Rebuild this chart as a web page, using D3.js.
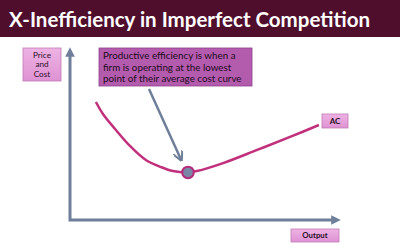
<!DOCTYPE html>
<html>
<head>
<meta charset="utf-8">
<script src="https://cdn.jsdelivr.net/npm/d3@7"></script>
<style>
  body { margin: 0; background: #fff; }
  svg { display: block; }
</style>
</head>
<body>
<svg id="chart" width="400" height="250"></svg>
<script>
// average cost curve (output, cost on a 0-10 scale)
let acOutput = [0.96, 1.22, 1.67, 2.22, 2.81, 3.37, 3.81, 4.37, 4.70, 5.67, 6.93, 8.15, 9.22]
let acCost   = [6.82, 6.13, 5.26, 4.28, 3.47, 3.06, 2.83, 2.75, 2.83, 3.29, 4.05, 4.80, 5.49]
let minPoint = [4.37, 2.75]

let title = "X-Inefficiency in Imperfect Competition"
let yLabel = ["Price", "and", "Cost"]
let xLabel = "Output"
let curveLabel = "AC"
let note = ["Productive efficiency is when a",
            "firm is operating at the lowest",
            "point of their average cost curve"]

let svg = d3.select("#chart")
let font = "Lato, 'Open Sans', sans-serif"

let x = d3.scaleLinear().domain([0, 10]).range([70, 340])
let y = d3.scaleLinear().domain([0, 10]).range([220, 47])

// title bar
svg.append("rect").attr("x", 0).attr("y", 0).attr("width", 400).attr("height", 37)
  .attr("fill", "#4f0e2c")
svg.append("text").attr("x", 9).attr("y", 27)
  .attr("font-family", font).attr("font-weight", "bold").attr("font-size", 20)
  .attr("fill", "#fff").attr("textLength", 361).attr("lengthAdjust", "spacingAndGlyphs")
  .text(title)

let defs = svg.append("defs")
defs.append("marker").attr("id", "axhead").attr("viewBox", "0 0 10 10")
  .attr("refX", 5).attr("refY", 5).attr("markerWidth", 3.2).attr("markerHeight", 3.2)
  .attr("orient", "auto-start-reverse")
  .append("path").attr("d", "M0,0L10,5L0,10z").attr("fill", "#6f7f99")
defs.append("marker").attr("id", "arhead").attr("viewBox", "0 0 10 10")
  .attr("refX", 8).attr("refY", 5).attr("markerWidth", 4).attr("markerHeight", 4)
  .attr("orient", "auto")
  .append("path").attr("d", "M0,0L10,5L0,10").attr("fill", "none")
  .attr("stroke", "#6f7f99").attr("stroke-width", 2)

let pinkGrad = defs.append("linearGradient").attr("id", "pink")
  .attr("x1", 0).attr("y1", 0).attr("x2", 0).attr("y2", 1)
pinkGrad.append("stop").attr("offset", "0%").attr("stop-color", "#eeb3e4")
pinkGrad.append("stop").attr("offset", "100%").attr("stop-color", "#de92d2")

// axes (L shape with arrowheads)
svg.append("path")
  .attr("d", `M${x(0)},${y(0) - 168}L${x(0)},${y(0)}L${x(0) + 266},${y(0)}`)
  .attr("fill", "none").attr("stroke", "#6f7f99").attr("stroke-width", 3)
  .attr("marker-start", "url(#axhead)").attr("marker-end", "url(#axhead)")

function labelBox(x0, y0, w, h, lines, size, weight, lh) {
  svg.append("rect").attr("x", x0).attr("y", y0).attr("width", w).attr("height", h)
    .attr("fill", "url(#pink)").attr("stroke", "#c07ab6").attr("stroke-width", 0.8)
  lines.forEach(function(t, i) {
    svg.append("text").attr("x", x0 + w / 2)
      .attr("y", y0 + h / 2 + (i - (lines.length - 1) / 2) * lh + size * 0.35)
      .attr("text-anchor", "middle").attr("font-family", font)
      .attr("font-size", size).attr("font-weight", weight).attr("fill", "#2a1026")
      .text(t)
  })
}

labelBox(23, 48, 38, 33, yLabel, 8.2, "normal", 9.8)
labelBox(322, 114, 26, 14, [curveLabel], 8, "bold", 0)
labelBox(291, 229, 48, 13, [xLabel], 7.8, "bold", 0)

// AC curve
let acData = acOutput.map(function(d, i) { return [d, acCost[i]] })
svg.append("path").datum(acData)
  .attr("d", d3.line().x(d => x(d[0])).y(d => y(d[1])).curve(d3.curveCatmullRom))
  .attr("fill", "none").attr("stroke", "#c1307c").attr("stroke-width", 2.5)

// note box
svg.append("rect").attr("x", 99).attr("y", 48).attr("width", 153).attr("height", 38)
  .attr("fill", "#b35cae").attr("stroke", "#8f3c8a").attr("stroke-width", 0.8)
note.forEach(function(t, i) {
  svg.append("text").attr("x", 103).attr("y", 59 + i * 11.5)
    .attr("font-family", font).attr("font-size", 9.8).attr("fill", "#1e0a1c")
    .text(t)
})

// pointer arrow to the minimum
let mx = x(minPoint[0]), my = y(minPoint[1])
svg.append("line").attr("x1", 149).attr("y1", 89).attr("x2", mx - 7).attr("y2", my - 13)
  .attr("stroke", "#6f7f99").attr("stroke-width", 2.5).attr("marker-end", "url(#arhead)")

svg.append("circle").attr("cx", mx).attr("cy", my).attr("r", 5.8)
  .attr("fill", "#7b86a6").attr("stroke", "#b52a7a").attr("stroke-width", 2)
</script>
</body>
</html>
